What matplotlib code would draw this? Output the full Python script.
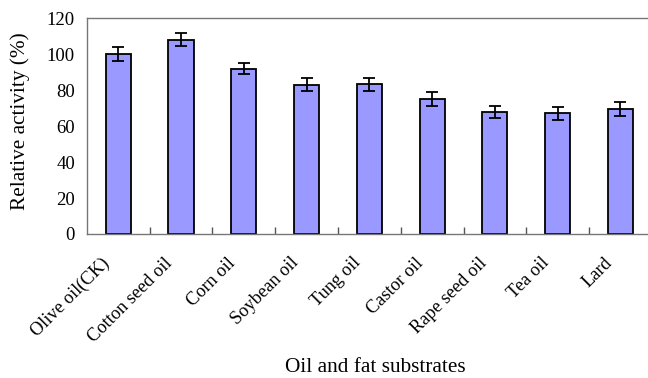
import matplotlib.pyplot as plt
import matplotlib.transforms as mtransforms
import numpy as np

plt.rcParams['font.family'] = ['Liberation Serif', 'DejaVu Serif']

##########################
### DATA
##########################
substrates = ['Olive oil(CK)', 'Cotton seed oil', 'Corn oil', 'Soybean oil',
              'Tung oil', 'Castor oil', 'Rape seed oil', 'Tea oil', 'Lard']
activity = [100, 108, 92, 83, 83.2, 75, 67.8, 67, 69.5]
errors = [3.7, 3.6, 3.3, 3.6, 3.6, 3.7, 3.3, 3.7, 3.8]

##########################
### PLOT
##########################
fig = plt.figure(figsize=(6.48, 3.78), dpi=100)
ax = fig.add_axes([0.134, 0.381, 0.872, 0.571])

x = np.arange(len(substrates))
ax.bar(x, activity, width=0.4, color='#9999ff', edgecolor='black',
       linewidth=1.3, zorder=2)
ax.errorbar(x, activity, yerr=errors, fmt='none', ecolor='black',
            elinewidth=1.3, capsize=4, capthick=1.3, zorder=3)

ax.set_xlim(-0.5, len(substrates) - 0.5)
ax.set_ylim(0, 120)
ax.set_yticks(range(0, 121, 20))
ax.tick_params(axis='y', length=0, labelsize=13.5, pad=8.5)

# category labels, boundary ticks drawn as minor ticks
ax.set_xticks(x)
ax.set_xticklabels(substrates, rotation=45, ha='right', va='center',
                   rotation_mode='anchor', fontsize=13.2)
ax.tick_params(axis='x', which='major', length=0, pad=19)
shift = mtransforms.ScaledTranslation(-0.11, 0, fig.dpi_scale_trans)
for lbl in ax.get_xticklabels():
    lbl.set_transform(lbl.get_transform() + shift)
ax.set_xticks(np.arange(0.5, len(substrates) - 0.5), minor=True)
ax.tick_params(axis='x', which='minor', direction='in', length=5,
               width=1, color='#555555')

for side in ['top', 'bottom', 'left', 'right']:
    ax.spines[side].set_color('#777777')
    ax.spines[side].set_linewidth(1.0)

ax.set_ylabel('Relative activity (%)', fontsize=15.3)
ax.yaxis.set_label_coords(-0.1, 0.523)
ax.set_xlabel('Oil and fat substrates', fontsize=15.3, va='top')
ax.xaxis.set_label_coords(0.511, -0.574)

plt.savefig('out.png', dpi=100)
